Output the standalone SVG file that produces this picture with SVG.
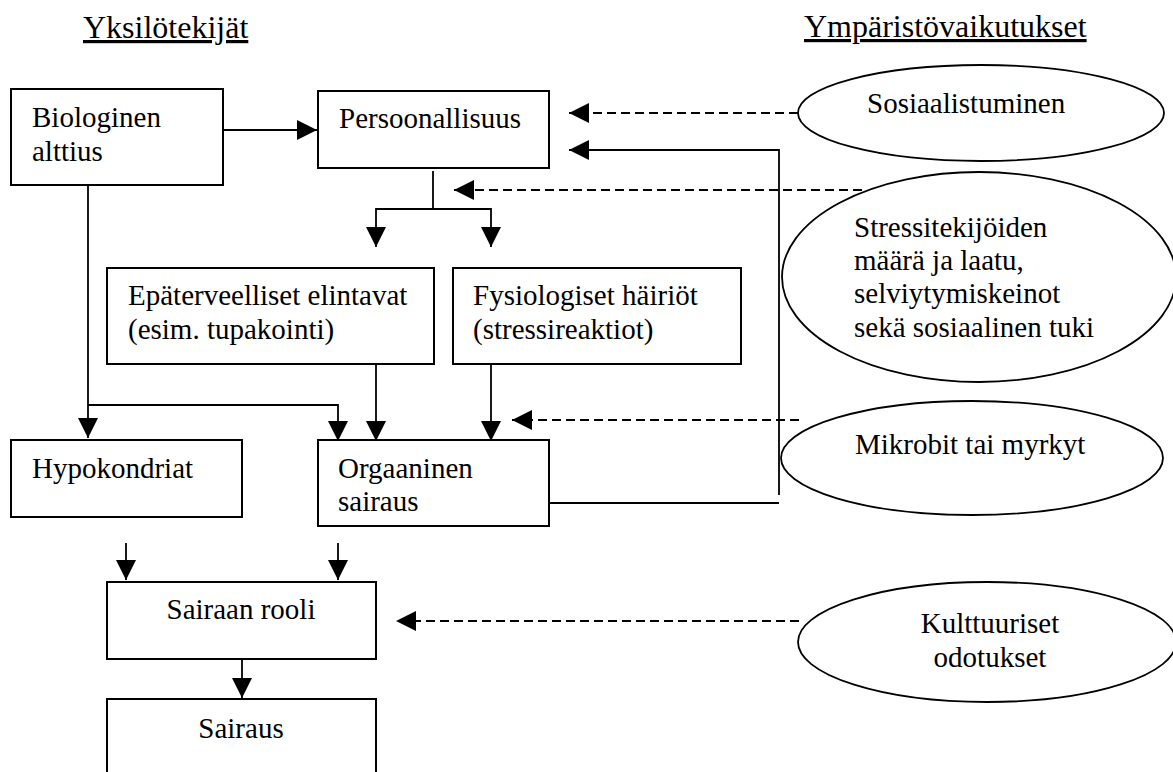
<svg xmlns="http://www.w3.org/2000/svg" width="1173" height="772" viewBox="0 0 1173 772">
<style>
  text { font-family: "Liberation Serif", "Times New Roman", serif; font-size: 29px; fill: #000; }
  .title { font-size: 32px; text-decoration: underline; }
  .mid { text-anchor: middle; }
  .box { fill: #fff; stroke: #000; stroke-width: 2; }
  .ell { fill: #fff; stroke: #000; stroke-width: 1.8; }
  .ln { fill: none; stroke: #000; stroke-width: 1.8; }
  .dash { fill: none; stroke: #000; stroke-width: 1.8; stroke-dasharray: 9 5; }
</style>
<defs>
  <marker id="ah" markerUnits="userSpaceOnUse" markerWidth="20" markerHeight="20" refX="20" refY="10" orient="auto">
    <path d="M0,0 L20,10 L0,20 Z" fill="#000" stroke="none"/>
  </marker>
</defs>
<rect width="1173" height="772" fill="#fff"/>

<g id="titles">
  <text class="title" x="83" y="38">Yksilötekijät</text>
  <text class="title" x="804" y="37">Ympäristövaikutukset</text>
</g>

<g id="connectors">
  <path class="ln" d="M223,130 H317" marker-end="url(#ah)"/>
  <path class="ln" d="M88,169 V438" marker-end="url(#ah)"/>
  <path class="ln" d="M88,405 H338 V441" marker-end="url(#ah)"/>
  <path class="ln" d="M433,171 V209"/>
  <path class="ln" d="M433,209 H376 V247" marker-end="url(#ah)"/>
  <path class="ln" d="M433,209 H491 V247" marker-end="url(#ah)"/>
  <path class="ln" d="M376,364 V441" marker-end="url(#ah)"/>
  <path class="ln" d="M491,364 V441" marker-end="url(#ah)"/>
  <path class="ln" d="M549,503 H779"/>
  <path class="ln" d="M779,495 V150 H569" marker-end="url(#ah)"/>
  <path class="ln" d="M126,543 V580" marker-end="url(#ah)"/>
  <path class="ln" d="M338,543 V580" marker-end="url(#ah)"/>
  <path class="ln" d="M242,659 V698" marker-end="url(#ah)"/>
  <path class="dash" d="M798,113 H569" marker-end="url(#ah)"/>
  <path class="dash" d="M862,190 H454" marker-end="url(#ah)"/>
  <path class="dash" d="M799,420 H512" marker-end="url(#ah)"/>
  <path class="dash" d="M799,621 H396" marker-end="url(#ah)"/>
</g>

<g id="biologinen">
  <rect class="box" x="11" y="89" width="212" height="96"/>
  <text x="32" y="127">Biologinen</text>
  <text x="32" y="161">alttius</text>
</g>
<g id="persoonallisuus">
  <rect class="box" x="318" y="91" width="231" height="77"/>
  <text x="339" y="128">Persoonallisuus</text>
</g>
<g id="epaterveelliset">
  <rect class="box" x="107" y="268" width="327" height="96"/>
  <text x="128" y="305">Epäterveelliset elintavat</text>
  <text x="128" y="339">(esim. tupakointi)</text>
</g>
<g id="fysiologiset">
  <rect class="box" x="453" y="268" width="288" height="96"/>
  <text x="473" y="305">Fysiologiset häiriöt</text>
  <text x="473" y="339">(stressireaktiot)</text>
</g>
<g id="hypokondriat">
  <rect class="box" x="11" y="440" width="231" height="77"/>
  <text x="32" y="478">Hypokondriat</text>
</g>
<g id="orgaaninen">
  <rect class="box" x="318" y="440" width="231" height="86"/>
  <text x="338" y="478">Orgaaninen</text>
  <text x="338" y="511">sairaus</text>
</g>
<g id="sairaan-rooli">
  <rect class="box" x="107" y="582" width="269" height="77"/>
  <text class="mid" x="241" y="619">Sairaan rooli</text>
</g>
<g id="sairaus">
  <rect class="box" x="107" y="699" width="269" height="90"/>
  <text class="mid" x="241" y="738">Sairaus</text>
</g>

<g id="sosiaalistuminen">
  <ellipse class="ell" cx="981" cy="113" rx="183" ry="48"/>
  <text x="867" y="113">Sosiaalistuminen</text>
</g>
<g id="stressitekijat">
  <ellipse class="ell" cx="979" cy="277" rx="197" ry="105"/>
  <text x="854" y="237">Stressitekijöiden</text>
  <text x="854" y="270">määrä ja laatu,</text>
  <text x="854" y="303">selviytymiskeinot</text>
  <text x="854" y="337">sekä sosiaalinen tuki</text>
</g>
<g id="mikrobit">
  <ellipse class="ell" cx="972" cy="458" rx="191" ry="57"/>
  <text x="855" y="454">Mikrobit tai myrkyt</text>
</g>
<g id="kulttuuriset">
  <ellipse class="ell" cx="987" cy="642" rx="189" ry="60"/>
  <text class="mid" x="990" y="633">Kulttuuriset</text>
  <text class="mid" x="990" y="667">odotukset</text>
</g>
</svg>
